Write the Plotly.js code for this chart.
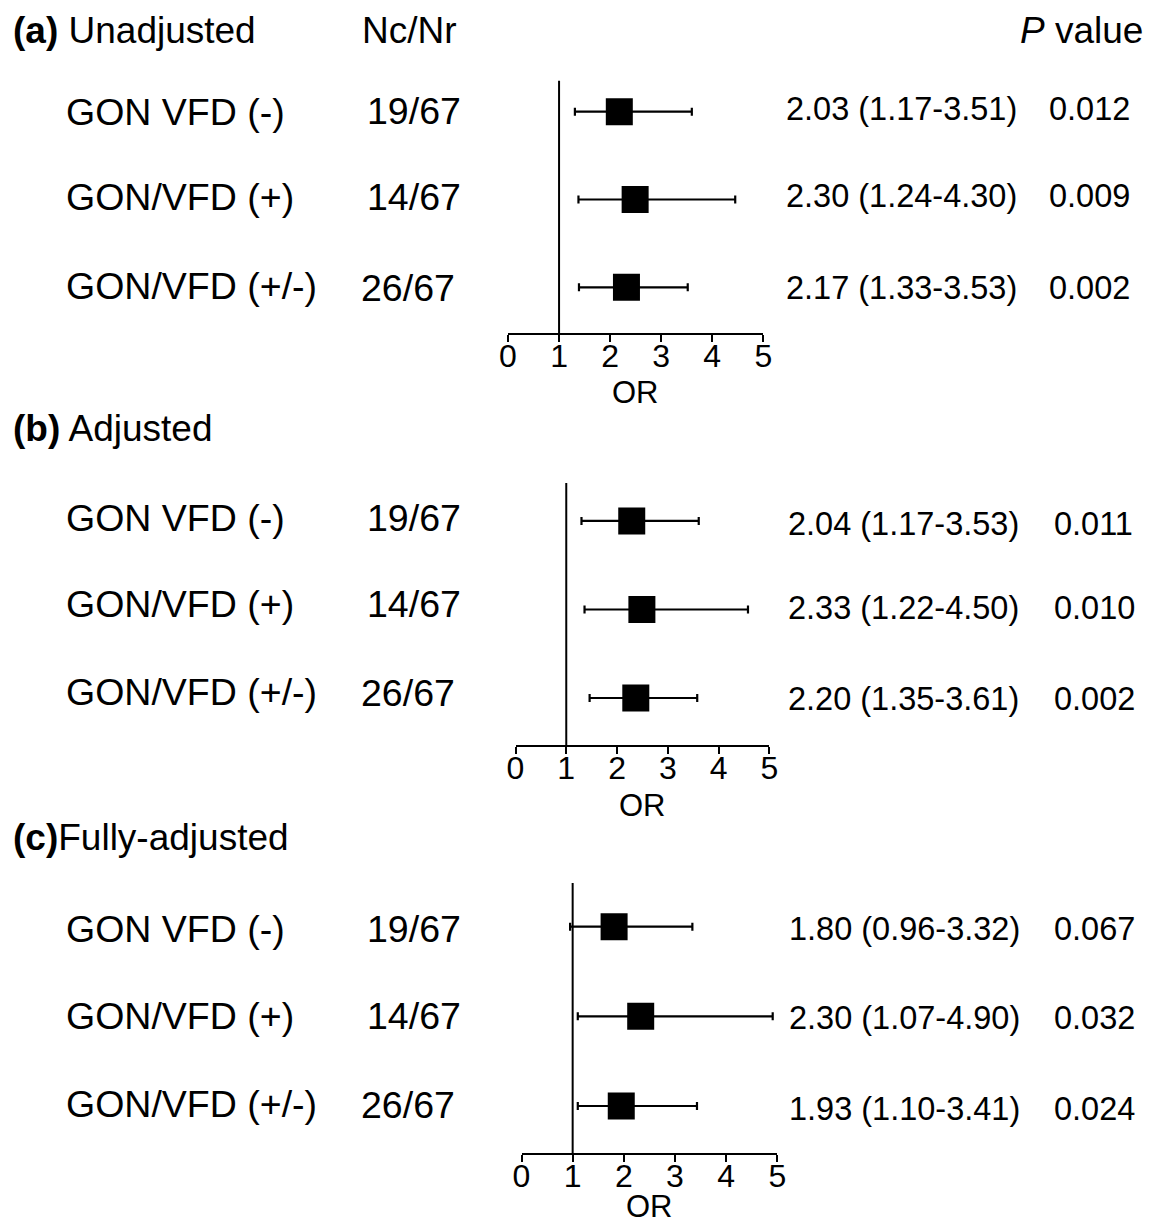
<!DOCTYPE html>
<html>
<head>
<meta charset="utf-8">
<script src="https://cdn.plot.ly/plotly-3.0.1.min.js"></script>
<style>
  html, body { margin: 0; padding: 0; background: #fff; }
  #chart { width: 1158px; height: 1226px; }
</style>
</head>
<body>
<div id="chart"></div>
<script>
// ---------------- DATA ----------------
const groups = ['GON VFD (-)', 'GON/VFD (+)', 'GON/VFD (+/-)'];
const rowIndex = [3, 2, 1];
const panelTags = ['(a)', '(b)', '(c)'];
const panelNames = [' Unadjusted', ' Adjusted', 'Fully-adjusted'];
const ncnrA = ['19/67', '14/67', '26/67'];
const ncnrB = ['19/67', '14/67', '26/67'];
const ncnrC = ['19/67', '14/67', '26/67'];

// positions of the drawn marks
const orA = [2.18, 2.49, 2.32];
const loA = [1.31, 1.38, 1.39];
const hiA = [3.60, 4.45, 3.52];
const orB = [2.29, 2.49, 2.37];
const loB = [1.30, 1.36, 1.46];
const hiB = [3.61, 4.58, 3.58];
const orC = [1.81, 2.33, 1.95];
const loC = [0.95, 1.10, 1.10];
const hiC = [3.34, 4.91, 3.43];

// printed estimates
const orTextA = ['2.03 (1.17-3.51)', '2.30 (1.24-4.30)', '2.17 (1.33-3.53)'];
const orTextB = ['2.04 (1.17-3.53)', '2.33 (1.22-4.50)', '2.20 (1.35-3.61)'];
const orTextC = ['1.80 (0.96-3.32)', '2.30 (1.07-4.90)', '1.93 (1.10-3.41)'];
const pA = ['0.012', '0.009', '0.002'];
const pB = ['0.011', '0.010', '0.002'];
const pC = ['0.067', '0.032', '0.024'];
const xTicks = [0, 1, 2, 3, 4, 5];
const xTitle = 'OR';
const colNc = 'Nc/Nr';
const colP = '<i>P</i> value';

// ---------------- LAYOUT HELPERS ----------------
const W = 1158, H = 1226;
const FONT = 'Liberation Sans, Arial, Helvetica, sans-serif';
const px = x => x / W;
const py = y => 1 - y / H;

const panels = [
  { or: orA, lo: loA, hi: hiA, nc: ncnrA, ort: orTextA, p: pA,
    xdom: [508, 763.3], ydom: [333, 80.7], yr: [0.4795, 3.353],
    head: 30, lab: [112, 197, 286], cnt: [111, 197, 288], ory: [109, 196, 288],
    orx: 784, px: 1047, titleY: 392 },
  { or: orB, lo: loB, hi: hiB, nc: ncnrB, ort: orTextB, p: pB,
    xdom: [515.5, 769.3], ydom: [745, 483], yr: [0.469, 3.429],
    head: 428, lab: [517.5, 604, 691.5], cnt: [518, 604, 693], ory: [524, 608, 699],
    orx: 785.5, px: 1051.5, titleY: 805 },
  { or: orC, lo: loC, hi: hiC, nc: ncnrC, ort: orTextC, p: pC,
    xdom: [521.5, 777.3], ydom: [1153, 883], yr: [0.476, 3.487],
    head: 837, lab: [929, 1016, 1104], cnt: [929, 1016, 1105], ory: [929, 1018, 1109],
    orx: 787, px: 1051.5, titleY: 1206 }
];
const cntX = [365, 365, 359];

const traces = [];
const layout = {
  width: W, height: H,
  margin: { l: 0, r: 0, t: 0, b: 0 },
  paper_bgcolor: '#ffffff', plot_bgcolor: 'rgba(0,0,0,0)',
  showlegend: false,
  font: { family: FONT, color: '#000' },
  annotations: [], shapes: []
};

function ann(text, x, y, size, extra) {
  return Object.assign({
    text: text, x: px(x), y: py(y), xref: 'paper', yref: 'paper',
    xanchor: 'left', yanchor: 'middle', showarrow: false,
    font: { family: FONT, size: size, color: '#000' }
  }, extra || {});
}

panels.forEach((P, i) => {
  const sfx = i === 0 ? '' : String(i + 1);
  const xa = 'x' + sfx, ya = 'y' + sfx;
  traces.push({
    type: 'scatter', mode: 'markers',
    x: P.or, y: rowIndex, xaxis: xa, yaxis: ya,
    marker: { symbol: 'square', size: 27, color: '#000' },
    error_x: {
      type: 'data', symmetric: false,
      array: P.hi.map((h, k) => h - P.or[k]),
      arrayminus: P.lo.map((l, k) => P.or[k] - l),
      color: '#000', thickness: 2.2, width: 4
    },
    hoverinfo: 'skip'
  });
  layout['xaxis' + sfx] = {
    domain: [px(P.xdom[0]), px(P.xdom[1])], anchor: ya,
    range: [0, 5], tickvals: xTicks, ticktext: xTicks.map(String),
    showline: true, linecolor: '#000', linewidth: 2,
    ticks: 'outside', ticklen: 7, tickwidth: 2, tickcolor: '#000',
    ticklabelstandoff: -13,
    showgrid: false, zeroline: false, fixedrange: true,
    tickfont: { family: FONT, size: 32, color: '#000' }
  };
  layout['yaxis' + sfx] = {
    domain: [py(P.ydom[0]), py(P.ydom[1])], anchor: xa,
    range: P.yr, visible: false, fixedrange: true
  };
  layout.shapes.push({
    type: 'line', xref: xa, yref: ya + ' domain',
    x0: 1, x1: 1, y0: 0, y1: 1, line: { color: '#000', width: 2 }
  });
  // headers
  layout.annotations.push(ann('<b>' + panelTags[i] + '</b>' + panelNames[i], 11, P.head, 37));
  if (i === 0) {
    layout.annotations.push(ann(colNc, 360, P.head, 37));
    layout.annotations.push(ann(colP, 1018, P.head, 37));
  }
  // rows
  groups.forEach((g, k) => {
    layout.annotations.push(ann(g, 64, P.lab[k], 37.5));
    layout.annotations.push(ann(P.nc[k], cntX[k], P.cnt[k], 37.5));
    layout.annotations.push(ann(P.ort[k], P.orx, P.ory[k], 32.5));
    layout.annotations.push(ann(P.p[k], P.px, P.ory[k], 32.5));
  });
  // axis title
  layout.annotations.push({
    text: xTitle, x: 2.5, xref: xa, y: py(P.titleY), yref: 'paper',
    xanchor: 'center', yanchor: 'middle', showarrow: false,
    font: { family: FONT, size: 31, color: '#000' }
  });
});

Plotly.newPlot('chart', traces, layout, { staticPlot: true, displayModeBar: false });
</script>
</body>
</html>
